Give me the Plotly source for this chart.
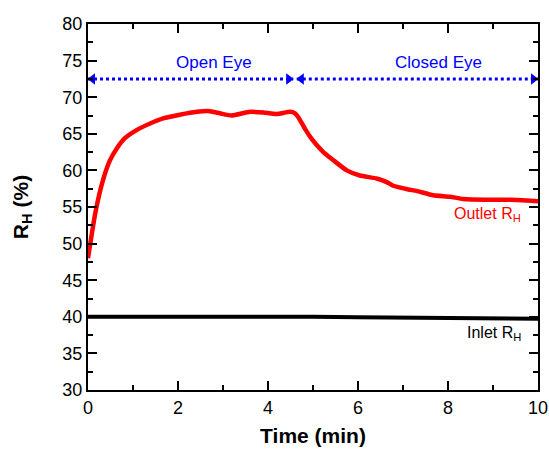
import plotly.graph_objects as go

# Outlet relative humidity (red trace)
t_outlet = [0, 0.16, 0.33, 0.49, 0.64, 0.82, 1.08, 1.38, 1.67, 2.04, 2.42, 2.67, 2.93,
            3.19, 3.6, 3.9, 4.19, 4.49, 4.6, 4.67, 4.82, 4.97, 5.23, 5.45, 5.75, 6.04,
            6.41, 6.64, 6.78, 7.12, 7.3, 7.67, 8.04, 8.34, 8.93, 9.38, 9.75, 10]
rh_outlet = [48.0, 54.1, 58.6, 61.4, 63.0, 64.4, 65.5, 66.4, 67.1, 67.6, 68.0, 68.1, 67.8,
             67.5, 68.0, 67.9, 67.7, 68.0, 67.8, 67.3, 65.7, 64.3, 62.5, 61.4, 60.0, 59.3,
             58.9, 58.4, 57.9, 57.4, 57.2, 56.6, 56.4, 56.1, 56.0, 56.0, 55.9, 55.8]

# Inlet relative humidity (black trace)
t_inlet = [0, 1, 2, 3, 3.5, 3.8, 4.2, 5, 6, 7, 8, 9, 10]
rh_inlet = [40.0, 40.0, 40.0, 40.0, 40.05, 40.1, 40.0, 40.0, 39.95, 39.9, 39.85, 39.8, 39.75]

# Phase spans (min) and the level of the span arrows (%)
open_span = [0, 4.56]
closed_span = [4.64, 10]
span_level = 72.5
phase_labels = ["Open Eye", "Closed Eye"]
phase_label_x = [2.8, 7.78]
phase_label_y = 74.8

x_ticks = [0, 2, 4, 6, 8, 10]
y_ticks = [30, 35, 40, 45, 50, 55, 60, 65, 70, 75, 80]

FONT = "Liberation Sans, Arial, sans-serif"
BLUE = "#0000ff"
HEAD_HALF = 0.1  # half an arrowhead's length in minutes, so the tip sits on the span end

fig = go.Figure()

fig.add_trace(go.Scatter(x=t_inlet, y=rh_inlet, mode="lines",
                         line=dict(color="black", width=4), showlegend=False))
fig.add_trace(go.Scatter(x=t_outlet, y=rh_outlet, mode="lines",
                         line=dict(color="#ff0000", width=4.5, shape="spline", smoothing=0.5),
                         showlegend=False))

# Dotted double-headed span arrows
for span in (open_span, closed_span):
    fig.add_trace(go.Scatter(x=span, y=[span_level, span_level], mode="lines",
                             line=dict(color=BLUE, width=3, dash="dot"),
                             showlegend=False, cliponaxis=False))
    heads_x = [span[0] + HEAD_HALF, span[1] - HEAD_HALF]
    fig.add_trace(go.Scatter(x=heads_x, y=[span_level, span_level], mode="markers",
                             marker=dict(symbol=["triangle-left", "triangle-right"],
                                         size=10, color=BLUE),
                             showlegend=False, cliponaxis=False))

for label, lx in zip(phase_labels, phase_label_x):
    fig.add_annotation(x=lx, y=phase_label_y, text=label, showarrow=False,
                       font=dict(family=FONT, size=17, color=BLUE))

fig.add_annotation(x=9.66, y=54.0, text="Outlet R<sub>H</sub>", showarrow=False,
                   xanchor="right", font=dict(family=FONT, size=16, color="#ff0000"))
fig.add_annotation(x=9.66, y=37.7, text="Inlet R<sub>H</sub>", showarrow=False,
                   xanchor="right", font=dict(family=FONT, size=16, color="black"))

axis_common = dict(showline=True, linecolor="black", linewidth=2, mirror="ticks",
                   ticks="inside", ticklen=9, tickwidth=2, tickcolor="black",
                   showgrid=False, zeroline=False, automargin=False,
                   tickfont=dict(family=FONT, size=18, color="black"))

fig.update_xaxes(range=[0, 10], tickvals=x_ticks,
                 minor=dict(ticks="inside", ticklen=5, tickwidth=2, dtick=1,
                            tickcolor="black", showgrid=False),
                 title=dict(text="<b>Time (min)</b>", standoff=12,
                            font=dict(family=FONT, size=21, color="black")),
                 **axis_common)
fig.update_yaxes(range=[30, 80], tickvals=y_ticks,
                 minor=dict(ticks="inside", ticklen=5, tickwidth=2, dtick=2.5,
                            tickcolor="black", showgrid=False),
                 title=dict(text="<b>R<sub>H</sub> (%)</b>", standoff=28,
                            font=dict(family=FONT, size=21, color="black")),
                 **axis_common)

fig.update_layout(width=549, height=451, plot_bgcolor="white", paper_bgcolor="white",
                  margin=dict(l=88, r=11, t=24, b=61),
                  font=dict(family=FONT, color="black"))

fig.write_html("out.html")
